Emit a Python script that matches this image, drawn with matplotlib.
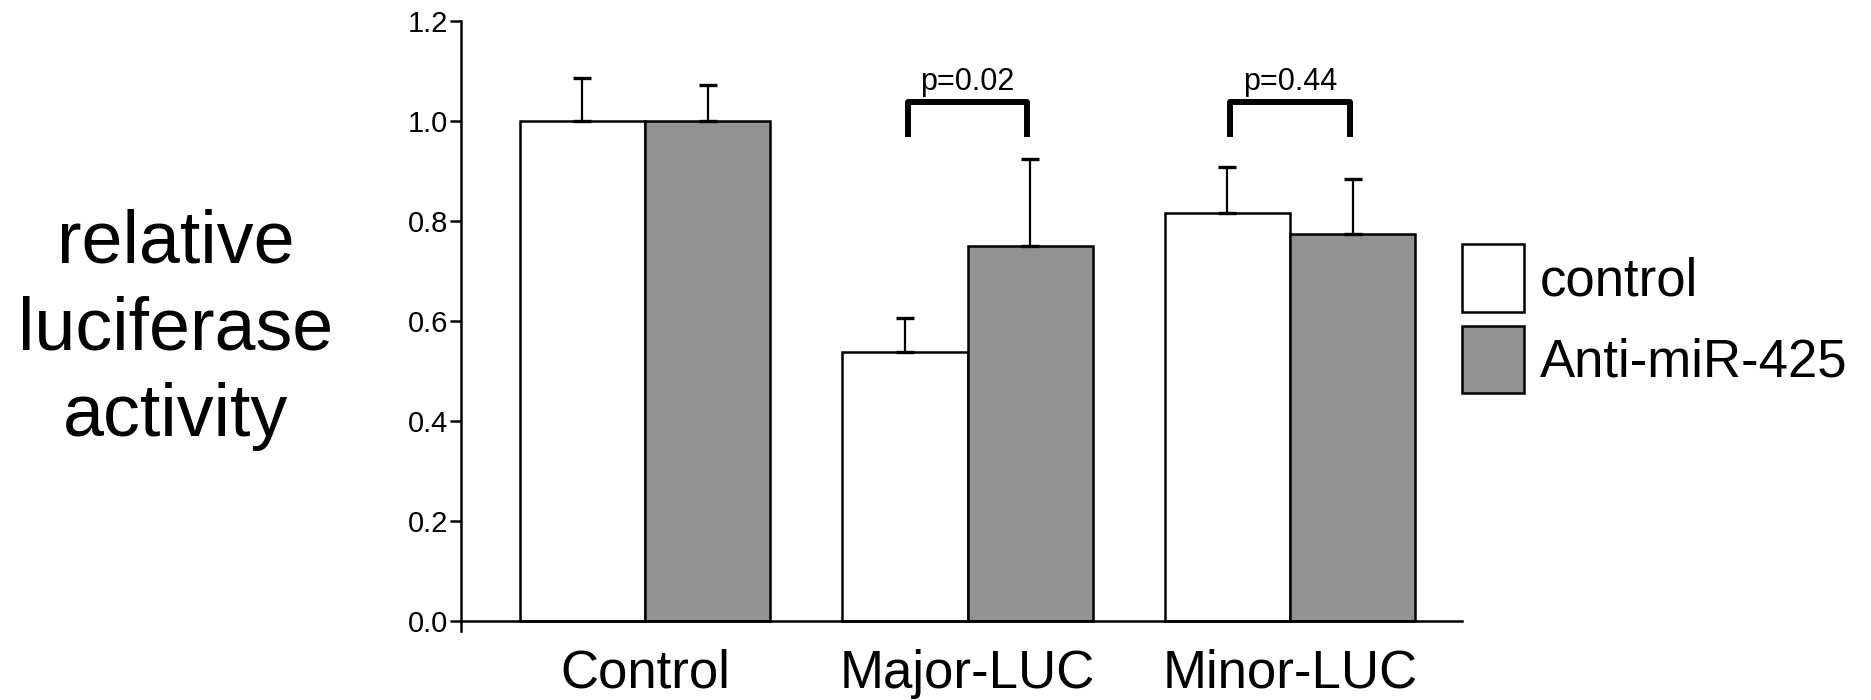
import matplotlib
matplotlib.use("Agg")
import matplotlib.pyplot as plt
import numpy as np

plt.rcParams['font.family'] = ['Liberation Sans', 'DejaVu Sans']

# data
groups = ['Control', 'Major-LUC', 'Minor-LUC']
series = ['control', 'Anti-miR-425']
ctrl_mean = [1.00, 0.537, 0.816]
ctrl_err = [0.085, 0.068, 0.092]
anti_mean = [1.00, 0.749, 0.774]
anti_err = [0.072, 0.175, 0.110]
pvals = ['', 'p=0.02', 'p=0.44']

x = np.arange(len(groups))
w = 0.388

fig = plt.figure(figsize=(18.71, 7.0), dpi=100)
ax = fig.add_axes([0.2462, 0.0986, 0.535, 0.8714])

ekw = dict(elinewidth=1.6, capthick=2.4, ecolor='black')
b1 = ax.bar(x - w/2, ctrl_mean, w, color='white', edgecolor='black', linewidth=1.8,
            yerr=[np.zeros(3), ctrl_err], capsize=6.8, error_kw=ekw, label=series[0])
b2 = ax.bar(x + w/2, anti_mean, w, color='#929292', edgecolor='black', linewidth=1.8,
            yerr=[np.zeros(3), anti_err], capsize=6.8, error_kw=ekw, label=series[1])

# significance brackets
for i, p in enumerate(pvals):
    if not p:
        continue
    xl, xr = x[i] - 0.186, x[i] + 0.186
    ax.plot([xl, xl, xr, xr], [0.967, 1.038, 1.038, 0.967], color='black', lw=4.3,
            solid_joinstyle='round', solid_capstyle='butt', clip_on=False)
    ax.text(x[i], 1.061, p, ha='center', va='baseline', fontsize=22)

ax.set_xlim(-0.5715, 2.532)
ax.set_ylim(-0.02, 1.2)
ax.spines['bottom'].set_position(('data', 0))
ax.spines['top'].set_visible(False)
ax.spines['right'].set_visible(False)
for s in ['left', 'bottom']:
    ax.spines[s].set_linewidth(1.8)

ax.set_yticks([0.0, 0.2, 0.4, 0.6, 0.8, 1.0, 1.2])
ax.set_yticklabels(['0.0', '0.2', '0.4', '0.6', '0.8', '1.0', '1.2'])
ax.tick_params(axis='y', direction='out', length=7.7, width=1.8, pad=1.5, labelsize=21)
ax.set_xticks(x)
ax.set_xticklabels(groups)
ax.tick_params(axis='x', length=0, pad=20, labelsize=38)

fig.text(176/1871, 1 - 330/700, 'relative\nluciferase\nactivity', ha='center', va='center',
         multialignment='center', fontsize=53, linespacing=1.33)

fig.legend(handles=[b1, b2], labels=series, loc='upper left',
           bbox_to_anchor=(0.7812, 0.6514), frameon=False, fontsize=38,
           handlelength=1.18, handleheight=1.6, handletextpad=0.3,
           labelspacing=0.26, borderpad=0, borderaxespad=0)

fig.savefig('out.png', dpi=100)
